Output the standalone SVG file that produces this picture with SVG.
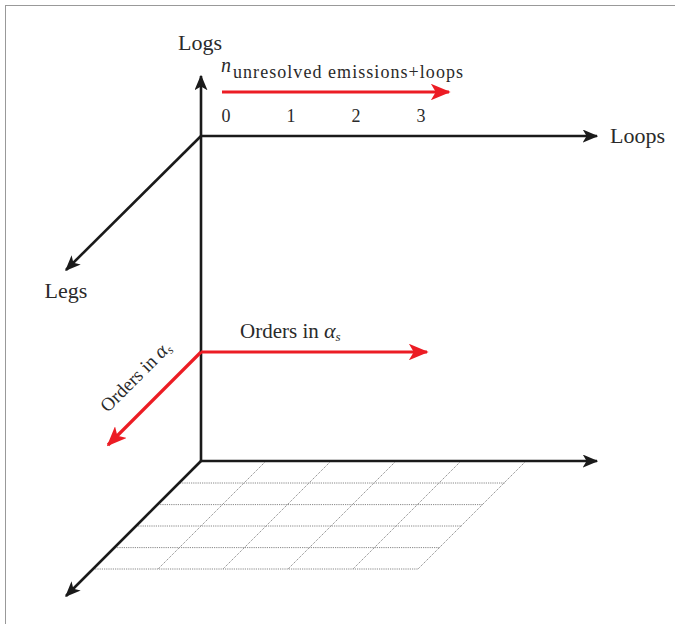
<svg xmlns="http://www.w3.org/2000/svg" width="675" height="624" viewBox="0 0 675 624">
<style>
.ax{stroke:#1a1a1a;stroke-width:2.6;fill:none}
.rd{stroke:#ec1c24;stroke-width:3.2;fill:none}
.gr{stroke:#888;stroke-width:1;stroke-dasharray:1.2 1;fill:none}
text{font-family:"Liberation Serif","DejaVu Serif",serif;fill:#2a2a2a}
.t{font-size:22px}
.s{font-size:18px}
</style>
<defs>
<marker id="ab" viewBox="0 0 12 10" refX="11" refY="5" markerWidth="6" markerHeight="5" orient="auto" markerUnits="strokeWidth">
<path d="M0,0 L12,5 L0,10 L3,5 Z" fill="#1a1a1a"/>
</marker>
<marker id="ar" viewBox="0 0 12 10" refX="11" refY="5" markerWidth="6.2" markerHeight="5.2" orient="auto" markerUnits="strokeWidth">
<path d="M0,0 L12,5 L0,10 L3,5 Z" fill="#ec1c24"/>
</marker>
</defs>
<rect x="5.5" y="5.5" width="680" height="630" fill="none" stroke="#999" stroke-width="1"/>
<g id="grid">
<path class="gr" d="M180,483H505M158,504.6H483M136,526H462M115,547.6H440M93,569H418"/>
<path class="gr" d="M201,461H526"/>
<path class="gr" d="M266,461L158,569M331,461L223,569M396,461L288,569M461,461L353,569M526,461L418,569"/>
</g>
<g id="connectors">
<path class="ax" d="M201,461V76" marker-end="url(#ab)"/>
<path class="ax" d="M201,136H597" marker-end="url(#ab)"/>
<path class="ax" d="M201,136L66,270" marker-end="url(#ab)"/>
<path class="ax" d="M201,461H597" marker-end="url(#ab)"/>
<path class="ax" d="M201,461L66,596" marker-end="url(#ab)"/>
<path class="rd" d="M222,92H449" marker-end="url(#ar)"/>
<path class="rd" d="M201,352H427" marker-end="url(#ar)"/>
<path class="rd" d="M201,352L108,445" marker-end="url(#ar)"/>
</g>
<g id="labels">
<text class="t" x="200" y="50" text-anchor="middle">Logs</text>
<text class="t" x="610" y="143">Loops</text>
<text class="t" x="66" y="298" text-anchor="middle">Legs</text>
<text x="221" y="72" font-size="20" font-style="italic">n</text>
<text class="s" x="233" y="78" textLength="230" lengthAdjust="spacing">unresolved emissions+loops</text>
<text class="s" x="226" y="122" text-anchor="middle">0</text>
<text class="s" x="291" y="122" text-anchor="middle">1</text>
<text class="s" x="356" y="122" text-anchor="middle">2</text>
<text class="s" x="421" y="122" text-anchor="middle">3</text>
<text x="240" y="338" font-size="21">Orders in <tspan font-style="italic" font-size="22">α</tspan><tspan font-style="italic" font-size="13" dy="3">s</tspan></text>
<text transform="translate(140,381) rotate(-45)" text-anchor="middle" font-size="19">Orders in <tspan font-style="italic" font-size="20">α</tspan><tspan font-style="italic" font-size="12" dy="3">s</tspan></text>
</g>
</svg>
